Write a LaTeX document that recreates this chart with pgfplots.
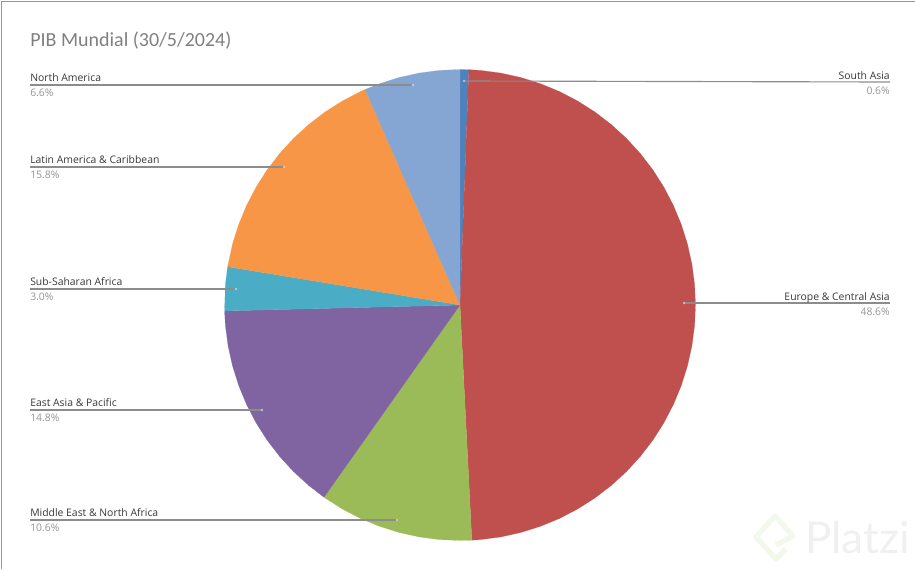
\documentclass[border=0pt]{standalone}
\usepackage{pgfplots}
\pgfplotsset{compat=1.18}
\usepgfplotslibrary{polar}
\usepackage{fontspec}
\setmainfont{Open Sans}
\newfontfamily\titlefont{Carlito}
\newfontfamily\wmfont{Lato}
\definecolor{cSA}{HTML}{4F81BD}
\definecolor{cEU}{HTML}{C0504D}
\definecolor{cME}{HTML}{9BBB59}
\definecolor{cEA}{HTML}{8064A2}
\definecolor{cSS}{HTML}{4BACC6}
\definecolor{cLA}{HTML}{F79646}
\definecolor{cNA}{HTML}{85A6D2}
\definecolor{frame}{HTML}{969696}
\definecolor{leader}{HTML}{8C8C8C}
\definecolor{wmgreen}{HTML}{F3F8EC}
\begin{document}
\begin{tikzpicture}[x=1pt,y=1pt]
\path[use as bounding box] (0,0) rectangle (686.25pt,426.75pt);
\begin{polaraxis}[
  at={(345pt,198pt)}, anchor=center,
  scale only axis, width=353.25pt, height=353.25pt,
  hide axis, clip=false,
  xmin=0, xmax=360, ymin=0, ymax=1]
\addplot[fill=cSA,draw=cSA,line width=0.1pt] coordinates {(0,0)(90,1)(89,1)(87.84,1)} --cycle;
\addplot[fill=cEU,draw=cEU,line width=0.1pt] coordinates {(0,0)(87.84,1)(85,1)(80,1)(75,1)(70,1)(65,1)(60,1)(55,1)(50,1)(45,1)(40,1)(35,1)(30,1)(25,1)(20,1)(15,1)(10,1)(5,1)(0,1)(355,1)(350,1)(345,1)(340,1)(335,1)(330,1)(325,1)(320,1)(315,1)(310,1)(305,1)(300,1)(295,1)(290,1)(285,1)(280,1)(275,1)(272.88,1)} --cycle;
\addplot[fill=cME,draw=cME,line width=0.1pt] coordinates {(0,0)(272.88,1)(270,1)(265,1)(260,1)(255,1)(250,1)(245,1)(240,1)(234.72,1)} --cycle;
\addplot[fill=cEA,draw=cEA,line width=0.1pt] coordinates {(0,0)(234.72,1)(230,1)(225,1)(220,1)(215,1)(210,1)(205,1)(200,1)(195,1)(190,1)(185,1)(181.44,1)} --cycle;
\addplot[fill=cSS,draw=cSS,line width=0.1pt] coordinates {(0,0)(181.44,1)(175,1)(170.64,1)} --cycle;
\addplot[fill=cLA,draw=cLA,line width=0.1pt] coordinates {(0,0)(170.64,1)(165,1)(160,1)(155,1)(150,1)(145,1)(140,1)(135,1)(130,1)(125,1)(120,1)(115,1)(113.76,1)} --cycle;
\addplot[fill=cNA,draw=cNA,line width=0.1pt] coordinates {(0,0)(113.76,1)(110,1)(105,1)(100,1)(95,1)(90,1)} --cycle;
\end{polaraxis}
\begin{axis}[
  at={(0pt,0pt)}, anchor=south west,
  scale only axis, width=686.25pt, height=426.75pt,
  hide axis, clip=false,
  xmin=0, xmax=915, ymin=0, ymax=569, y dir=reverse]
% frame
\addplot[frame,line width=0.9pt] coordinates {(1.2,569)(1.2,1.2)(915,1.2)};
% watermark
\addplot[color=wmgreen,line width=4pt,line join=round] coordinates {(786,549)(776,559)(756,537)(775,516)(793,536)(776,545)};
\node[anchor=base west,inner sep=0pt,font=\wmfont\fontsize{33}{33}\selectfont,text=black!6] at (axis cs:805,553) {Platzi};
% leader lines
\addplot[leader,line width=0.85pt,mark=none] coordinates {(30,85)(413,85)};
\addplot[leader,line width=0.85pt,mark=none] coordinates {(30,167)(284,167)};
\addplot[leader,line width=0.85pt,mark=none] coordinates {(30,289)(236,289)};
\addplot[leader,line width=0.85pt,mark=none] coordinates {(30,410)(262,410)};
\addplot[leader,line width=0.85pt,mark=none] coordinates {(30,520)(397,520)};
\addplot[leader,line width=0.85pt,mark=none] coordinates {(890,82)(464,81)};
\addplot[leader,line width=0.85pt,mark=none] coordinates {(890,303)(684,303)};
% end dots
\addplot[only marks,mark=*,mark size=1.1pt,draw opacity=0,fill=white,fill opacity=0.5,mark options={draw opacity=0,fill=white,fill opacity=0.5}] coordinates {(413,85)(284,167)(236,289)(262,410)(397,520)(464,81)(684,303)};
% title
\node[anchor=base west,inner sep=0pt,font=\titlefont\fontsize{15}{16}\selectfont,text=black!50] at (axis cs:30,46) {PIB Mundial (30/5/2024)};
% labels
\tikzset{nm/.style={inner sep=0pt,font=\fontsize{7.8}{8}\selectfont,text=black!78},
         pc/.style={inner sep=0pt,font=\fontsize{7.8}{8}\selectfont,text=black!42}}
\node[nm,anchor=base west] at (axis cs:30,81.5) {North America};
\node[pc,anchor=base west] at (axis cs:30,96) {6.6\%};
\node[nm,anchor=base west] at (axis cs:30,163.5) {Latin America \& Caribbean};
\node[pc,anchor=base west] at (axis cs:30,178.5) {15.8\%};
\node[nm,anchor=base west] at (axis cs:30,285) {Sub-Saharan Africa};
\node[pc,anchor=base west] at (axis cs:30,300) {3.0\%};
\node[nm,anchor=base west] at (axis cs:30,406) {East Asia \& Pacific};
\node[pc,anchor=base west] at (axis cs:30,421) {14.8\%};
\node[nm,anchor=base west] at (axis cs:30,516) {Middle East \& North Africa};
\node[pc,anchor=base west] at (axis cs:30,531) {10.6\%};
\node[nm,anchor=base east] at (axis cs:890,79) {South Asia};
\node[pc,anchor=base east] at (axis cs:890,94) {0.6\%};
\node[nm,anchor=base east] at (axis cs:890,300) {Europe \& Central Asia};
\node[pc,anchor=base east] at (axis cs:890,315) {48.6\%};
\end{axis}
\end{tikzpicture}
\end{document}
